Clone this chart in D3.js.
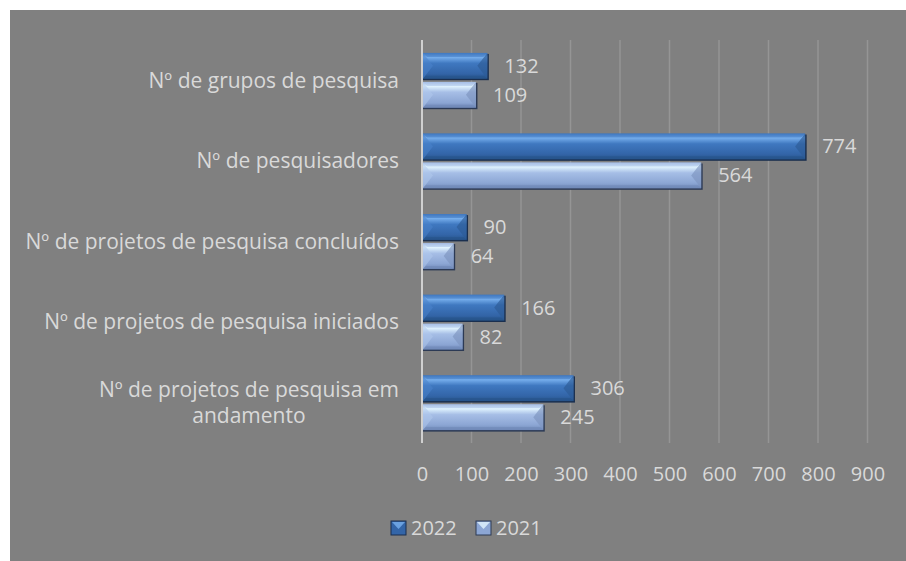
<!DOCTYPE html>
<html>
<head>
<meta charset="utf-8">
<script src="https://cdn.jsdelivr.net/npm/d3@7"></script>
<style>
  html, body { margin: 0; padding: 0; background: #fff; }
  svg { display: block; }
  text { font-family: 'Open Sans', Lato, sans-serif; }
</style>
</head>
<body>
<svg id="chart" width="906" height="561"></svg>
<script>
'use strict'

// categories top to bottom
var categories = [
  'Nº de grupos de pesquisa',
  'Nº de pesquisadores',
  'Nº de projetos de pesquisa concluídos',
  'Nº de projetos de pesquisa iniciados',
  'Nº de projetos de pesquisa em|andamento'
]
var seriesNames = ['2022', '2021']
var values2022 = [132, 774, 90, 166, 306]
var values2021 = [109, 564, 64, 82, 245]
var xTicks = [0, 100, 200, 300, 400, 500, 600, 700, 800, 900]

var svg = d3.select('#chart')
var width = 906
var height = 561
var plot = { left: 422, right: 867.5, top: 40, bottom: 443 }
var textColor = '#d9d9d9'
var numSize = 20
var catSize = 21

// grey chart area
svg.append('rect')
  .attr('x', 10).attr('y', 10)
  .attr('width', width - 10).attr('height', height - 10)
  .attr('fill', '#808080')

var x = d3.scaleLinear().domain([0, 900]).range([plot.left, plot.right])
var y = d3.scaleBand().domain(categories).range([plot.top, plot.bottom]).paddingInner(0.32).paddingOuter(0.16)
var ySub = d3.scaleBand().domain(seriesNames).range([0, y.bandwidth()]).paddingInner(0.11)

// gradients
var defs = svg.append('defs')
var palettes = {
  '2022': { top: '#78b0ee', mid: '#3f78c0', low: '#3365a8', bot: '#27548a', left: '#4a84cc', right: '#2d5a95', edge: '#1a2f4f' },
  '2021': { top: '#e2f5ff', mid: '#a6bee6', low: '#8ca6d4', bot: '#7089b8', left: '#b0c8ec', right: '#7c93be', edge: '#2c3a55' }
}
seriesNames.forEach(function (s) {
  var p = palettes[s]
  var g = defs.append('linearGradient').attr('id', 'grad' + s)
    .attr('x1', 0).attr('y1', 0).attr('x2', 0).attr('y2', 1)
  g.append('stop').attr('offset', '0%').attr('stop-color', p.mid)
  g.append('stop').attr('offset', '16%').attr('stop-color', p.top)
  g.append('stop').attr('offset', '40%').attr('stop-color', p.mid)
  g.append('stop').attr('offset', '80%').attr('stop-color', p.low)
  g.append('stop').attr('offset', '100%').attr('stop-color', p.bot)
})

// gridlines
svg.append('g')
  .selectAll('line')
  .data(xTicks.slice(1))
  .enter().append('line')
    .attr('x1', (d) => x(d)).attr('x2', (d) => x(d))
    .attr('y1', plot.top).attr('y2', plot.bottom)
    .attr('stroke', '#959595').attr('stroke-width', 1.5)

// axis (category line)
svg.append('line')
  .attr('x1', x(0)).attr('x2', x(0))
  .attr('y1', plot.top).attr('y2', plot.bottom)
  .attr('stroke', '#d0d0d0').attr('stroke-width', 2)

// x tick labels
var xAxis = svg.append('g')
  .attr('transform', 'translate(0,' + (plot.bottom + 31) + ')')
  .call(d3.axisBottom(x).tickValues(xTicks).tickSize(0).tickPadding(0))
xAxis.select('.domain').remove()
xAxis.selectAll('text')
  .attr('fill', textColor)
  .attr('font-size', numSize)
  .attr('font-family', "'Open Sans', sans-serif")
  .attr('dy', '0.35em')

// bars
var rows = []
categories.forEach(function (c, i) {
  rows.push({ cat: c, series: '2022', value: values2022[i] })
  rows.push({ cat: c, series: '2021', value: values2021[i] })
})

function drawBar (g, d) {
  var p = palettes[d.series]
  var x0 = x(0) + 1
  var x1 = x(d.value)
  var y0 = y(d.cat) + ySub(d.series)
  var h = ySub.bandwidth()
  var w = x1 - x0
  var bev = Math.min(10, w / 2)
  var bt = 4
  var bb = 3
  // shadow edge
  g.append('rect')
    .attr('x', x0).attr('y', y0 + 1)
    .attr('width', w + 1.5).attr('height', h + 0.5)
    .attr('fill', p.edge)
  g.append('rect')
    .attr('x', x0).attr('y', y0)
    .attr('width', w).attr('height', h)
    .attr('fill', 'url(#grad' + d.series + ')')
  // left bevel
  g.append('polygon')
    .attr('points', [[x0, y0], [x0 + bev, y0 + h / 2], [x0, y0 + h]].join(' '))
    .attr('fill', p.left).attr('opacity', 0.55)
  // right bevel
  g.append('polygon')
    .attr('points', [[x1, y0], [x1 - bev, y0 + h / 2], [x1, y0 + h]].join(' '))
    .attr('fill', p.right).attr('opacity', 0.65)
  // top edge
  g.append('polygon')
    .attr('points', [[x0, y0], [x1, y0], [x1 - bt, y0 + bt], [x0 + bt, y0 + bt]].join(' '))
    .attr('fill', p.mid).attr('opacity', 0.5)
  // bottom edge
  g.append('polygon')
    .attr('points', [[x0, y0 + h], [x1, y0 + h], [x1 - bb, y0 + h - bb], [x0 + bb, y0 + h - bb]].join(' '))
    .attr('fill', p.bot).attr('opacity', 0.6)
}

var barG = svg.append('g').attr('class', 'bars')
rows.forEach(function (d) {
  drawBar(barG.append('g'), d)
})

// value labels
svg.append('g')
  .selectAll('text')
  .data(rows)
  .enter().append('text')
    .attr('x', (d) => x(d.value) + 17)
    .attr('y', (d) => y(d.cat) + ySub(d.series) + ySub.bandwidth() / 2)
    .attr('dy', '0.35em')
    .attr('fill', textColor)
    .attr('font-size', numSize)
    .text((d) => d.value)

// category labels
var catG = svg.append('g')
categories.forEach(function (c) {
  var lines = c.split('|')
  var cy = y(c) + y.bandwidth() / 2
  var lineH = 26.5
  var t = catG.append('text')
    .attr('fill', textColor)
    .attr('font-size', catSize)
  lines.forEach(function (l, i) {
    t.append('tspan')
      .attr('y', cy + (i - (lines.length - 1) / 2) * lineH)
      .attr('dy', '0.35em')
      .text(l)
  })
  var right = 399
  if (lines.length === 1) {
    t.attr('text-anchor', 'end').selectAll('tspan').attr('x', right)
  } else {
    var maxW = 0
    t.selectAll('tspan').each(function () {
      maxW = Math.max(maxW, this.getComputedTextLength())
    })
    t.attr('text-anchor', 'middle').selectAll('tspan').attr('x', right - maxW / 2)
  }
})

// legend
var legend = svg.append('g').attr('transform', 'translate(391,528)')
var legX = [0, 85]
seriesNames.forEach(function (s, i) {
  var p = palettes[s]
  var g = legend.append('g').attr('transform', 'translate(' + legX[i] + ',0)')
  g.append('rect')
    .attr('x', 0).attr('y', -7)
    .attr('width', 15).attr('height', 14)
    .attr('fill', p.low).attr('stroke', p.edge).attr('stroke-width', 1)
  g.append('polygon')
    .attr('points', [[1, -6], [14, -6], [7.5, 1]].join(' '))
    .attr('fill', p.top).attr('opacity', 0.8)
  g.append('text')
    .attr('x', 20).attr('y', 0)
    .attr('dy', '0.35em')
    .attr('fill', textColor)
    .attr('font-size', numSize)
    .text(s)
})
</script>
</body>
</html>
